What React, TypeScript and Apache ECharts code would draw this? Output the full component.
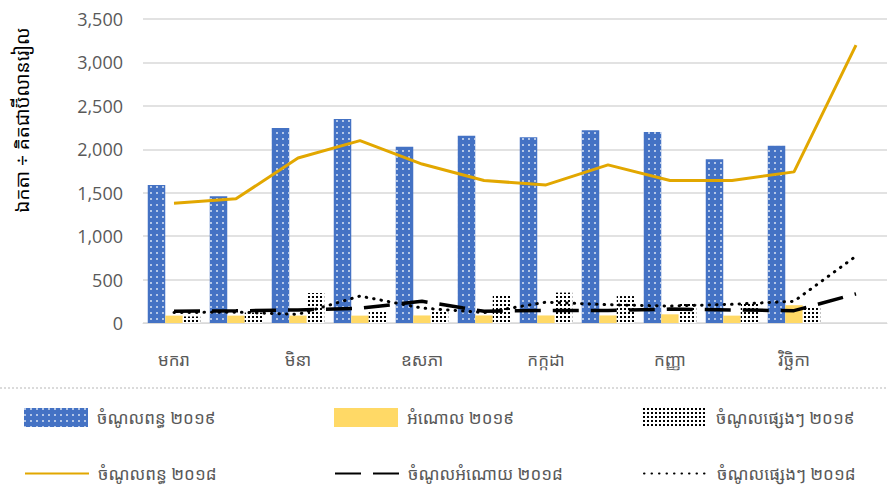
import React, { useEffect, useRef } from "react";
import * as echarts from "echarts";

const months = ["មករា", "កុម្ភៈ", "មិនា", "មេសា", "ឧសភា", "មិថុនា", "កក្កដា", "សីហា", "កញ្ញា", "តុលា", "វិច្ឆិកា", "ធ្នូ"];
const tax2019 = [1590, 1460, 2245, 2350, 2030, 2155, 2140, 2220, 2200, 1885, 2040, null];
const exp2019 = [85, 85, 85, 85, 87, 87, 87, 87, 100, 85, 205, null];
const other2019 = [75, 120, 345, 150, 150, 320, 350, 310, 240, 225, 195, null];
const tax2018 = [1380, 1430, 1900, 2100, 1830, 1640, 1590, 1820, 1640, 1640, 1740, 3200];
const grant2018 = [135, 140, 150, 170, 250, 135, 145, 145, 160, 150, 142, 335];
const other2018 = [120, 125, 100, 310, 172, 120, 240, 210, 195, 215, 250, 770];
const yTicks = { min: 0, max: 3500, interval: 500 };

const names = [
  "ចំណូលពន្ធ ២០១៩",
  "អំណោល ២០១៩",
  "ចំណូលផ្សេងៗ ២០១៩",
  "ចំណូលពន្ធ ២០១៨",
  "ចំណូលអំណោយ ២០១៨",
  "ចំណូលផ្សេងៗ ២០១៨",
];
const yName = "ឯកតា ÷ គិតជាប៊ីលានរៀល";

const FONT = "'Noto Sans Khmer', 'Khmer OS', 'Open Sans', 'Noto Sans', sans-serif";
const GRAY = "#595959";

export default function App() {
  const ref = useRef<HTMLDivElement>(null);
  useEffect(() => {
    document.body.style.margin = "0";
    const chart = echarts.init(ref.current!, null, { renderer: "svg" });
    const legendPos = [
      [24, 408], [334, 408], [643, 408],
      [24, 465], [334, 465], [643, 465],
    ];
    const legends = names.map((n, i) => {
      const base: any = {
        data: [n],
        left: legendPos[i][0],
        top: legendPos[i][1],
        padding: 0,
        itemWidth: 64,
        itemHeight: 19,
        textStyle: { fontSize: 17, color: GRAY, fontFamily: FONT, padding: [0, 0, 0, 4] },
      };
      if (i < 3) base.icon = "rect";
      else base.itemStyle = { opacity: 0 };
      return base;
    });
    chart.setOption({
      animation: false,
      grid: { left: 143, right: 1, top: 19, bottom: 175, containLabel: false },
      legend: legends,
      xAxis: {
        type: "category",
        data: months,
        axisTick: { show: false },
        axisLine: { lineStyle: { color: "#d9d9d9", width: 1 } },
        axisLabel: { interval: 1, fontSize: 17, color: GRAY, fontFamily: FONT, margin: 28 },
      },
      yAxis: {
        type: "value",
        min: yTicks.min,
        max: yTicks.max,
        interval: yTicks.interval,
        axisLabel: {
          fontSize: 18,
          color: GRAY,
          fontFamily: "'Open Sans', 'Liberation Sans', sans-serif",
          margin: 20,
          formatter: (v: number) => v.toLocaleString("en-US"),
        },
        splitLine: { lineStyle: { color: "#d9d9d9", width: 1.5 } },
      },
      graphic: [
        {
          type: "text",
          x: 22,
          y: 120,
          rotation: Math.PI / 2,
          style: {
            text: yName,
            fontSize: 19,
            fill: "#000",
            fontFamily: FONT,
            textAlign: "center",
            textVerticalAlign: "middle",
          },
        },
        {
          type: "line",
          shape: { x1: 0, y1: 388, x2: 888, y2: 388 },
          style: { stroke: "#d0d0d0", lineWidth: 1.5, lineDash: [2, 2] },
        },
      ],
      series: [
        {
          name: names[0],
          type: "bar",
          data: tax2019,
          barWidth: 17.5,
          barGap: "0%",
          itemStyle: {
            color: "#4472C4",
            decal: {
              symbol: "rect",
              symbolSize: 0.8,
              color: "#ffffff",
              dashArrayX: [2, 4],
              dashArrayY: [2, 4],
              rotation: 0,
            },
          },
        },
        {
          name: names[1],
          type: "bar",
          data: exp2019,
          barWidth: 17.5,
          barGap: "0%",
          itemStyle: { color: "#FFD966" },
        },
        {
          name: names[2],
          type: "bar",
          data: other2019,
          barWidth: 17.5,
          barGap: "0%",
          itemStyle: {
            color: "#ffffff",
            decal: {
              symbol: "rect",
              symbolSize: 1,
              color: "#000000",
              backgroundColor: "#ffffff",
              dashArrayX: [2, 2],
              dashArrayY: [2, 2],
              rotation: 0,
            },
          },
        },
        {
          name: names[3],
          type: "line",
          data: tax2018,
          symbol: "none",
          lineStyle: { color: "#E2A700", width: 3 },
          itemStyle: { color: "#E2A700" },
          z: 5,
        },
        {
          name: names[4],
          type: "line",
          data: grant2018,
          symbol: "none",
          lineStyle: { color: "#000", width: 3.5, type: [26, 12] },
          itemStyle: { color: "#000" },
          z: 5,
        },
        {
          name: names[5],
          type: "line",
          data: other2018,
          symbol: "none",
          lineStyle: { color: "#000", width: 3, type: [0.5, 7], cap: "round" },
          itemStyle: { color: "#000" },
          z: 5,
        },
      ],
    });
    return () => chart.dispose();
  }, []);
  return <div ref={ref} style={{ width: 888, height: 498 }} />;
}
